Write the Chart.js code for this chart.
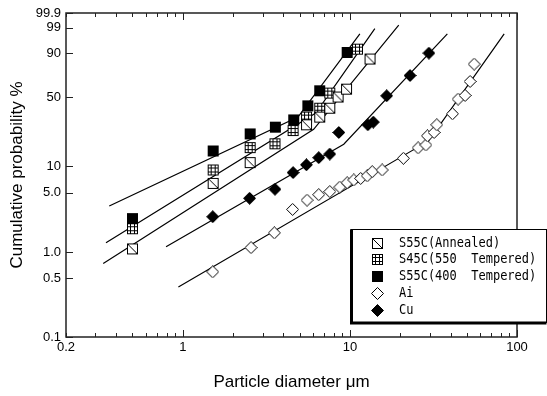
<!DOCTYPE html>
<html>
<head>
<meta charset="utf-8">
<script src="https://cdn.jsdelivr.net/npm/chart.js@4.4.0/dist/chart.umd.min.js"></script>
<style>
  html, body { margin: 0; padding: 0; background: #fff; }
  #wrap { width: 547px; height: 396px; }
</style>
</head>
<body>
<div id="wrap"><canvas id="chart" width="547" height="396"></canvas></div>
<script>
// particle diameter (um) / cumulative probability (%)
const annealedX = [0.5, 1.52, 2.53, 5.5, 6.6, 7.58, 8.5, 9.55, 13.2];
const annealedP = [1.1, 6.4, 11.0, 27.9, 33.2, 40.2, 50.2, 57.9, 86.0];

const s45cX = [0.5, 1.52, 2.53, 3.56, 4.57, 5.5, 6.6, 7.58, 11.1];
const s45cP = [1.9, 9.1, 16.1, 17.7, 24.4, 33.2, 40.2, 54.0, 92.4];

const s55cX = [0.5, 1.52, 2.53, 3.58, 4.61, 5.6, 6.6, 9.63];
const s55cP = [2.5, 14.8, 22.5, 26.4, 31.2, 42.2, 56.3, 90.5];

const aiX = [1.51, 2.56, 3.53, 4.54, 5.54, 6.51, 7.58, 8.7, 9.63, 10.55, 11.6, 12.7, 13.6,
  15.6, 20.9, 25.6, 28.5, 29.1, 31.9, 33.1, 41.1, 44.4, 48.9, 52.4, 55.4];
const aiP = [0.59, 1.14, 1.7, 3.2, 4.1, 4.75, 5.15, 5.8, 6.5, 7.0, 7.3, 7.8, 8.7,
  9.1, 12.3, 16.0, 17.2, 21.5, 23.3, 27.9, 35.7, 48.3, 51.7, 65.6, 82.0];

const cuX = [1.51, 2.51, 3.56, 4.57, 5.49, 6.51, 7.58, 8.58, 12.8, 13.8, 16.6, 22.9, 29.7];
const cuP = [2.63, 4.31, 5.48, 8.5, 10.4, 12.5, 13.7, 23.3, 27.9, 29.7, 51.4, 71.5, 90.1];

// fitted bilinear lines
const annealedFitX = [0.334, 6.07, 19.6];
const annealedFitP = [0.74, 25.1, 99.3];
const s45cFitX = [0.347, 6.25, 14.1];
const s45cFitP = [1.3, 36.3, 98.9];
const s55cFitX = [0.363, 4.89, 11.47];
const s55cFitP = [3.5, 33.2, 98.0];
const cuFitX = [0.794, 9.19, 38.3];
const cuFitP = [1.17, 17.5, 98.0];
const aiFitX = [0.941, 29.6, 83.8];
const aiFitP = [0.39, 19.0, 98.0];

const yTickPct = [0.1, 0.5, 1, 5, 10, 50, 90, 99, 99.9];
const yTickLabels = ["0.1", "0.5", "1.0", "5.0", "10", "50", "90", "99", "99.9"];
const xTickValues = [0.2, 1, 10, 100];
const xTickLabels = ["0.2", "1", "10", "100"];

const legendNames = ["S55C(Annealed)", "S45C(550  Tempered)", "S55C(400  Tempered)", "Ai", "Cu"];

// weibull probability paper
const weibull = p => Math.log(-Math.log(1 - p / 100));
const toPts = (xs, ps) => xs.map((x, i) => ({x: x, y: weibull(ps[i])}));

function marker(kind) {
  const c = document.createElement("canvas");
  c.width = 13;
  c.height = 13;
  const g = c.getContext("2d");
  g.strokeStyle = "#000";
  g.fillStyle = "#fff";
  g.lineWidth = 1;
  if (kind === "annealed") {
    g.fillRect(1.5, 1.5, 10, 10);
    g.strokeRect(1.5, 1.5, 10, 10);
    g.beginPath();
    g.moveTo(1.5, 1.5);
    g.lineTo(11.5, 11.5);
    g.stroke();
  } else if (kind === "hatched") {
    g.fillRect(1.5, 1.5, 10, 10);
    g.strokeRect(1.5, 1.5, 10, 10);
    g.beginPath();
    g.moveTo(4.5, 1.5); g.lineTo(4.5, 11.5);
    g.moveTo(8.5, 1.5); g.lineTo(8.5, 11.5);
    g.moveTo(1.5, 4.5); g.lineTo(11.5, 4.5);
    g.moveTo(1.5, 8.5); g.lineTo(11.5, 8.5);
    g.stroke();
  } else if (kind === "filled") {
    g.fillStyle = "#000";
    g.fillRect(1, 1, 11, 11);
  } else {
    g.beginPath();
    g.moveTo(6.5, 0.5);
    g.lineTo(12.5, 6.5);
    g.lineTo(6.5, 12.5);
    g.lineTo(0.5, 6.5);
    g.closePath();
    if (kind === "cu") {
      g.fillStyle = "#000";
    }
    g.fill();
    g.stroke();
  }
  return c;
}

const markers = [marker("annealed"), marker("hatched"), marker("filled"), marker("ai"), marker("cu")];

function pointSet(label, data, style) {
  return {
    label: label,
    data: data,
    showLine: false,
    pointStyle: style,
    pointRadius: 6,
    order: 0
  };
}

function fitSet(data) {
  return {
    label: "fit",
    data: data,
    showLine: true,
    borderColor: "#000",
    borderWidth: 1.2,
    pointRadius: 0,
    order: 1
  };
}

const framePlugin = {
  id: "frame",
  afterDatasetsDraw(chart) {
    const {ctx, chartArea: a, scales} = chart;
    ctx.save();
    ctx.strokeStyle = "#222";
    ctx.lineWidth = 1.5;
    ctx.strokeRect(a.left, a.top, a.right - a.left, a.bottom - a.top);
    ctx.lineWidth = 1;
    ctx.beginPath();
    // y ticks, inward
    yTickPct.forEach(p => {
      const y = Math.round(scales.y.getPixelForValue(weibull(p))) + 0.5;
      ctx.moveTo(a.left, y);
      ctx.lineTo(a.left + 7, y);
    });
    // x ticks top and bottom, inward
    for (let d = 0.1; d < 200; d *= 10) {
      for (let m = 1; m <= 9; m++) {
        const v = d * m;
        if (v < 0.2 || v > 100.01) continue;
        const len = m === 1 ? 7 : 4;
        const x = Math.round(scales.x.getPixelForValue(v)) + 0.5;
        ctx.moveTo(x, a.bottom);
        ctx.lineTo(x, a.bottom - len);
        ctx.moveTo(x, a.top);
        ctx.lineTo(x, a.top + len);
      }
    }
    ctx.stroke();
    ctx.restore();
  }
};

const legendPlugin = {
  id: "boxLegend",
  afterDraw(chart) {
    const {ctx} = chart;
    const x0 = 351, y0 = 229.5, x1 = 546.5, y1 = 322.5;
    ctx.save();
    ctx.fillStyle = "#fff";
    ctx.fillRect(x0, y0, x1 - x0, y1 - y0);
    ctx.strokeStyle = "#000";
    ctx.lineWidth = 1;
    ctx.strokeRect(x0, y0, x1 - x0, y1 - y0);
    ctx.lineWidth = 3;
    ctx.beginPath();
    ctx.moveTo(x0 + 0.5, y0);
    ctx.lineTo(x0 + 0.5, y1 + 0.5);
    ctx.lineTo(x1, y1 + 0.5);
    ctx.stroke();
    ctx.font = "12px 'DejaVu Sans Mono', 'Liberation Mono', monospace";
    ctx.fillStyle = "#000";
    ctx.textBaseline = "middle";
    legendNames.forEach((name, i) => {
      const y = 243 + i * 16.8;
      const m = markers[i];
      ctx.drawImage(m, Math.round(377 - m.width / 2), Math.round(y - m.height / 2));
      // the original font is narrow and tall
      ctx.save();
      ctx.translate(399, y);
      ctx.scale(1, 1.15);
      ctx.fillText(name, 0, 0);
      ctx.restore();
    });
    ctx.restore();
  }
};

new Chart(document.getElementById("chart"), {
  type: "scatter",
  data: {
    datasets: [
      pointSet(legendNames[0], toPts(annealedX, annealedP), markers[0]),
      pointSet(legendNames[1], toPts(s45cX, s45cP), markers[1]),
      pointSet(legendNames[2], toPts(s55cX, s55cP), markers[2]),
      pointSet(legendNames[3], toPts(aiX, aiP), markers[3]),
      pointSet(legendNames[4], toPts(cuX, cuP), markers[4]),
      fitSet(toPts(annealedFitX, annealedFitP)),
      fitSet(toPts(s45cFitX, s45cFitP)),
      fitSet(toPts(s55cFitX, s55cFitP)),
      fitSet(toPts(aiFitX, aiFitP)),
      fitSet(toPts(cuFitX, cuFitP))
    ]
  },
  options: {
    responsive: false,
    animation: false,
    layout: {padding: {top: 13, right: 30, left: 0, bottom: 0}},
    plugins: {
      legend: {display: false},
      tooltip: {enabled: false}
    },
    scales: {
      x: {
        type: "logarithmic",
        min: 0.2,
        max: 100,
        afterFit: s => { s.height = 59; },
        afterBuildTicks: s => { s.ticks = xTickValues.map(v => ({value: v})); },
        grid: {display: false, drawTicks: false},
        border: {display: false},
        ticks: {
          autoSkip: false,
          maxRotation: 0,
          padding: 3,
          color: "#000",
          font: {family: "'Liberation Sans', Arial, sans-serif", size: 13},
          callback: (v, i) => xTickLabels[i]
        },
        title: {
          display: true,
          text: "Particle diameter μm",
          color: "#000",
          font: {family: "'Liberation Sans', Arial, sans-serif", size: 17},
          padding: {top: 0, bottom: 3}
        }
      },
      y: {
        type: "linear",
        min: weibull(0.1),
        max: weibull(99.9),
        afterFit: s => { s.width = 66; },
        afterBuildTicks: s => { s.ticks = yTickPct.map(p => ({value: weibull(p)})); },
        grid: {display: false, drawTicks: false},
        border: {display: false},
        ticks: {
          autoSkip: false,
          padding: 5,
          color: "#000",
          font: {family: "'Liberation Sans', Arial, sans-serif", size: 13},
          callback: (v, i) => yTickLabels[i]
        },
        title: {
          display: true,
          text: "Cumulative probability %",
          color: "#000",
          font: {family: "'Liberation Sans', Arial, sans-serif", size: 17},
          padding: {top: 7, bottom: 0}
        }
      }
    }
  },
  plugins: [framePlugin, legendPlugin]
});
</script>
</body>
</html>
